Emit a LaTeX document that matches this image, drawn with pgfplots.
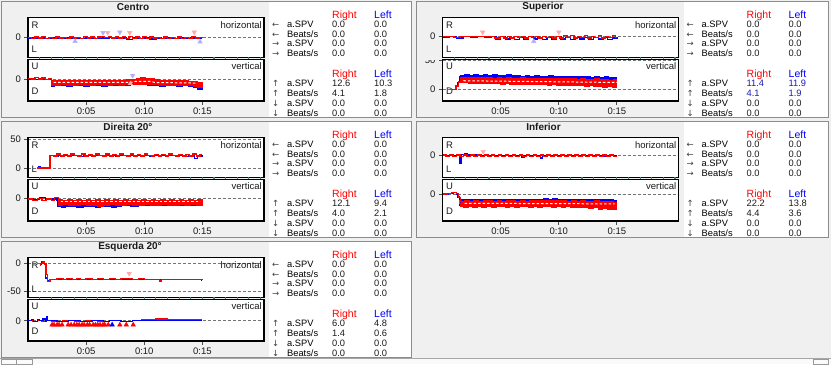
\documentclass[border=0pt]{standalone}
\usepackage{pgfplots}
\pgfplotsset{compat=1.18}
\usepackage{fontspec}
\setmainfont{Liberation Sans}
\newfontfamily\djv{DejaVu Sans}
\definecolor{bgc}{HTML}{F0F0F0}
\definecolor{pk}{HTML}{FFA8A8}
\definecolor{lb}{HTML}{B0B0FF}
\definecolor{tickc}{HTML}{3A7A8A}
\definecolor{vblue}{HTML}{1A1AB0}
\definecolor{txc}{HTML}{1A1A1A}
\pgfplotsset{
  eyebase/.style={scale only axis, width=236bp, xmin=0, xmax=20.3, anchor=north west,
    axis line style={line width=1.5bp, black},
    axis background/.style={fill=white},
    ytick={-50,0,50}, ymajorgrids,
    grid style={dash pattern=on 3bp off 2bp, black!55, line width=0.6bp},
    tick pos=left, tick align=outside, major tick length=3.5bp,
    tick style={black!70, line width=0.8bp},
    tick label style={font=\fontsize{9.5bp}{11bp}\selectfont, text=txc},
    /pgf/number format/assume math mode=true},
  horax/.style={eyebase, height=40bp, xtick=\empty, extra x ticks={1,2,...,20}, extra x tick labels={},
    extra x tick style={tick style={tickc, line width=1.2bp}, major tick length=1.6bp, grid=none}},
  verax/.style={eyebase, height=41.7bp, xtick={5,10,15}, xticklabels={0:05,0:10,0:15}},
  rl/.style={red, const plot, line width=1.3bp},
  bl/.style={blue, const plot, line width=1.3bp},
  rband/.style={red, fill=red, const plot, line width=1.1bp},
  bband/.style={blue, fill=blue, const plot, line width=1.1bp},
  wd/.style={white, line width=1bp, dash pattern=on 2.5bp off 2bp},
  mdn/.style={only marks, mark=triangle*, mark size=2.6bp, mark options={rotate=180}},
  mup/.style={only marks, mark=triangle*, mark size=2.6bp},
}
\newcommand\pframe[3]{\begin{scope}[shift={(#1,#2)}]
\fill[white] (269,2) rectangle (#3,117);
\draw[black!45, line width=1bp] (1.5,1.5) rectangle (#3+0.5,117.5);
\end{scope}}
\newcommand\trow[6]{\node[ar] at (272,#1) {#2}; \node[tx] at (287,#1) {#3};
\node[tx,text=#6] at (332,#1) {#4}; \node[tx,text=#6] at (374,#1) {#5};}
\newcommand\tbl[7]{\begin{scope}[shift={(#1,#2)}]
\clip (269,2) rectangle (411,117);
\node[hd,text=red] at (332,18.4) {Right};
\node[hd,text=blue] at (374,18.4) {Left};
\trow{27.6}{←}{a.SPV}{0.0}{0.0}{txc}
\trow{37.3}{←}{Beats/s}{0.0}{0.0}{txc}
\trow{46.9}{→}{a.SPV}{0.0}{0.0}{txc}
\trow{56.9}{→}{Beats/s}{0.0}{0.0}{txc}
\node[hd,text=red] at (332,77.8) {Right};
\node[hd,text=blue] at (374,77.8) {Left};
\trow{86.9}{↑}{a.SPV}{#3}{#4}{#7}
\trow{96.9}{↑}{Beats/s}{#5}{#6}{#7}
\trow{106.9}{↓}{a.SPV}{0.0}{0.0}{txc}
\trow{116.9}{↓}{Beats/s}{0.0}{0.0}{txc}
\end{scope}}
\newcommand\axlab[2]{\begin{scope}[shift={(#1,#2)}]
\node[lab,anchor=west] at (31.5,25) {R};
\node[lab,anchor=west] at (31.5,49) {L};
\node[lab,anchor=east] at (262,25) {horizontal};
\node[lab,anchor=west] at (31.5,66.5) {U};
\node[lab,anchor=west] at (31.5,91.5) {D};
\node[lab,anchor=east] at (262,66.5) {vertical};
\end{scope}}
\begin{document}
\begin{tikzpicture}[x=1bp,y=-1bp,
  tx/.style={anchor=base west, inner sep=0pt, font=\fontsize{9.3bp}{11bp}\selectfont},
  hd/.style={anchor=base west, inner sep=0pt, font=\fontsize{10.5bp}{12bp}\selectfont},
  ar/.style={anchor=base west, inner sep=0pt, font=\djv\fontsize{8.5bp}{10bp}\selectfont, text=black!75},
  ttl/.style={font=\bfseries\fontsize{10bp}{12bp}\selectfont, inner sep=0pt, text=txc},
  lab/.style={font=\fontsize{9.5bp}{11bp}\selectfont, inner sep=0pt, text=txc}]
\path[use as bounding box] (0,0) rectangle (831,364);
\fill[bgc] (0,0) rectangle (831,364);
\fill[black!2] (0,358) rectangle (831,364);
\draw[black!35, line width=0.8bp] (0,358.4) -- (831,358.4);
\draw[black!40, line width=0.8bp] (1,359) rectangle (16,364) (16,359) rectangle (32,364) (813,359) rectangle (828,364);
\pframe{0}{0}{411}
\pframe{414.5}{0}{413}
\pframe{0}{120}{411}
\pframe{414.5}{120}{413}
\pframe{0}{240}{411}

% ---------------- Centro ----------------
\begin{axis}[horax, at={(28bp,-17.3bp)}, ymin=-35, ymax=35]
\addplot[bl] coordinates {(0,-1) (0.5,-2) (1.0,-1) (1.5,-2) (2.0,-1) (2.5,-2.5) (3.0,-1) (3.5,-2) (4.0,-1) (4.5,-2.5) (5.0,-1) (5.5,-2) (6.0,-1) (6.5,-1) (7.0,0) (7.5,-2) (8.0,-1) (8.5,-4) (9.0,-1) (9.5,-2) (10.0,-1) (10.5,-3) (11.0,-1) (11.5,-2) (12.0,-1) (12.5,-2.5) (13.0,-1) (13.5,-2) (14.0,-1) (14.5,-2) (15.0,-2)};
\addplot[rl] coordinates {(0,0) (0.3,-1.5) (0.6,0.5) (0.9,-1) (1.2,1) (1.5,-1.5) (1.8,0) (2.1,-1.5) (2.4,0.5) (2.7,-1) (3.0,0) (3.3,-2) (3.6,0.5) (3.9,-1) (4.2,0) (4.5,-1.5) (4.8,1) (5.1,-1) (5.4,0.5) (5.7,-1.5) (6.0,0.5) (6.3,1) (6.6,0) (6.9,1.5) (7.2,-1) (7.5,0.5) (7.8,-1) (8.1,1) (8.4,-2.5) (8.7,1) (9.0,-1.5) (9.3,0.5) (9.6,-1.5) (9.9,1) (10.2,-2) (10.5,0.5) (10.8,-1) (11.1,0) (11.4,-2) (11.7,0.5) (12.0,-1.5) (12.3,0) (12.6,-2) (12.9,0.5) (13.2,-1.5) (13.5,0) (13.8,-2) (14.1,1) (14.4,-1) (14.7,0) (15.0,-1)};
\addplot[mdn, color=lb] coordinates {(6.45,8) (7.9,9)};
\addplot[mdn, color=pk] coordinates {(6.85,8) (8.75,8) (14.3,9)};
\addplot[mup, color=lb] coordinates {(4.05,-7) (14.8,-8)};
\end{axis}
\begin{axis}[verax, at={(28bp,-59.3bp)}, ymin=-38, ymax=34]
\addplot[bl] coordinates {(0,0) (0.5,-1) (1.0,0) (1.5,-1) (2.0,-4)};
\addplot[bband] coordinates {(2.0,-4) (9.0,-4) (9.5,-2) (10.5,-2) (11.0,-4) (14.6,-6) (15.0,-10) (15.0,-18) (14.8,-18) (14.6,-14) (14.2,-13) (13.8,-12) (13.3,-13) (12.8,-12) (12.3,-12) (11.8,-13) (11.3,-11) (10.8,-11) (10.3,-10) (9.8,-10) (9.3,-10) (8.8,-11) (8.3,-12) (7.8,-11) (7.3,-12) (6.8,-13) (6.3,-11) (5.8,-12) (5.3,-13) (4.8,-11) (4.3,-12) (3.8,-13) (3.3,-11) (2.8,-12) (2.3,-13) (2.0,-4)};
\addplot[rl] coordinates {(0,1) (0.3,0) (0.6,2) (0.9,0) (1.2,1.5) (1.5,-0.5) (1.8,1) (2.0,-2)};
\addplot[rband] coordinates {(2.0,-2) (2.5,-3) (3.0,-2) (3.5,-3) (4.0,-2) (4.5,-3) (5.0,-2) (5.5,-3) (6.0,-2) (6.5,-3) (7.0,-2) (7.5,-3) (8.0,-2) (8.5,-1) (9.0,-1) (9.3,1) (9.7,2) (10.1,1) (10.5,0) (10.9,-1) (11.3,-2) (11.8,-2) (12.3,-3) (12.8,-3) (13.3,-3) (13.8,-4) (14.3,-4) (14.6,-6) (15.0,-9) (15.0,-15) (14.6,-13) (14.2,-12) (13.8,-12) (13.3,-11) (12.8,-12) (12.3,-11) (11.8,-11) (11.3,-10) (10.8,-10) (10.3,-9) (9.8,-9) (9.3,-9) (8.8,-10) (8.3,-11) (7.8,-10) (7.3,-11) (6.8,-11) (6.3,-10) (5.8,-11) (5.3,-11) (4.8,-10) (4.3,-11) (3.8,-11) (3.3,-10) (2.8,-11) (2.3,-11) (2.0,-4)};
\addplot[wd] coordinates {(2.2,-6) (8.8,-6) (9.3,-4) (10.5,-4) (10.9,-6) (14.4,-7)};
\addplot[mdn, color=lb] coordinates {(9.0,6)};
\addplot[mup, color=pk] coordinates {(8.8,-8)};
\end{axis}

% ---------------- Superior ----------------
\begin{axis}[verax, at={(442.5bp,-59.3bp)}, ymin=-20, ymax=52]
\addplot[bl] coordinates {(0.85,0) (1.1,5) (1.3,12) (1.5,24)};
\addplot[bband] coordinates {(1.5,24) (1.9,25) (2.3,24) (2.7,25) (3.1,24) (3.5,25) (3.9,24) (4.3,25) (4.7,24) (5.1,24) (5.5,25) (5.9,24) (6.3,24) (6.7,23) (7.1,24) (7.5,23) (7.9,24) (8.3,23) (8.7,23) (9.1,24) (9.5,23) (9.9,23) (10.3,22) (10.7,23) (11.1,22) (11.5,23) (11.9,22) (12.3,22) (12.7,21) (13.1,22) (13.5,21) (13.9,22) (14.3,21) (14.7,21) (15.0,20) (15.0,8) (14.5,8) (14.0,9) (13.0,10) (12.0,10) (10.0,11) (8.0,12) (6.0,12) (4.0,13) (2.0,14) (1.5,14)};
\addplot[rl] coordinates {(0.85,0) (1.0,0) (1.15,6) (1.35,13) (1.55,21)};
\addplot[rband] coordinates {(1.55,21) (1.9,20) (2.3,21) (2.7,20) (3.1,20) (3.5,21) (3.9,20) (4.3,19) (4.7,20) (5.1,19) (5.5,20) (5.9,19) (6.3,19) (6.7,20) (7.1,19) (7.5,18) (7.9,19) (8.3,19) (8.7,18) (9.1,19) (9.5,18) (9.9,18) (10.3,19) (10.7,18) (11.1,18) (11.5,17) (11.9,18) (12.3,17) (12.7,17) (13.1,18) (13.5,17) (13.9,17) (14.3,16) (14.7,17) (15.0,16) (15.0,4) (14.6,5) (14.2,4) (13.8,5) (13.4,5) (13.0,6) (12.6,5) (12.2,6) (11.8,6) (11.4,7) (11.0,6) (10.6,7) (10.2,7) (9.8,8) (9.4,7) (9.0,8) (8.6,8) (8.2,8) (7.8,9) (7.4,8) (7.0,9) (6.6,9) (6.2,9) (5.8,10) (5.4,9) (5.0,10) (4.6,10) (4.2,10) (3.8,11) (3.4,10) (3.0,11) (2.6,11) (2.2,12) (1.8,12) (1.55,14)};
\addplot[wd] coordinates {(1.8,15) (15.0,12)};
\end{axis}
\fill[bgc] (417,49) rectangle (440,59.5);
\begin{axis}[horax, at={(442.5bp,-17.3bp)}, ymin=-37, ymax=33]
\addplot[bl] coordinates {(0,-2) (0.6,-1) (1.2,-3) (1.8,-1) (2.4,-2) (3.0,-1) (3.6,-2) (4.2,-1) (4.6,-5) (5.0,-1) (5.4,-5) (5.8,-2) (6.2,-6) (6.6,-2) (7.0,-5) (7.4,-1) (7.8,-5) (8.2,-2) (8.6,-6) (9.0,-2) (9.4,-5) (9.8,-1) (10.2,-5) (10.6,-2) (11.0,-6) (11.4,-2) (11.8,-5) (12.2,-2) (12.6,-6) (13.0,-2) (13.4,-5) (13.8,-2) (14.2,-6) (14.6,-3) (15.0,-4)};
\addplot[rl] coordinates {(0,-1) (0.5,0) (1.0,-2) (1.5,0) (2.0,-1) (2.5,0) (3.0,0) (3.5,-1) (4.0,0) (4.5,-3) (5.0,0) (5.3,-3) (5.6,0) (5.9,-3) (6.2,0) (6.5,-2) (6.8,0) (7.1,-3) (7.4,0) (7.7,-2) (8.0,0) (8.3,-3) (8.6,0) (8.9,-2) (9.2,0) (9.5,-3) (9.8,0) (10.1,-3) (10.4,1) (10.7,-2) (11.0,1) (11.3,-3) (11.6,0) (11.9,-2) (12.2,1) (12.5,-3) (12.8,0) (13.1,-2) (13.4,1) (13.7,-3) (14.0,0) (14.3,-2) (14.6,1) (14.9,-2) (15.0,-2)};
\addplot[mdn, color=pk] coordinates {(3.45,7) (10.0,7)};
\addplot[mup, color=lb] coordinates {(7.85,-9)};
\end{axis}

% ---------------- Direita 20 ----------------
\begin{axis}[horax, at={(28bp,-137.3bp)}, ymin=-16, ymax=53]
\addplot[bl] coordinates {(0.8,0) (0.9,3) (1.1,0) (1.9,22) (2.3,20) (2.6,22) (3.5,22) (4.5,20) (4.8,22) (6.0,22) (7.5,20) (7.8,22) (9.0,22) (10.5,20) (10.8,22) (12.0,22) (13.5,20) (13.8,22) (14.3,17) (14.6,21) (15.0,22)};
\addplot[rl] coordinates {(0.8,0) (1.9,22) (2.2,21) (2.5,24) (2.8,21) (3.1,23) (3.4,21) (3.7,24) (4.0,22) (4.3,21) (4.6,24) (4.9,21) (5.2,23) (5.5,21) (5.8,24) (6.1,22) (6.4,21) (6.7,24) (7.0,21) (7.3,23) (7.6,21) (7.9,24) (8.2,22) (8.5,21) (8.8,24) (9.1,21) (9.4,23) (9.7,21) (10.0,24) (10.3,22) (10.6,21) (10.9,23) (11.2,21) (11.5,23) (11.8,21) (12.1,24) (12.4,22) (12.7,21) (13.0,23) (13.3,21) (13.6,23) (13.9,21) (14.2,24) (14.5,21) (14.8,23) (15.0,23)};
\end{axis}
\begin{axis}[verax, at={(28bp,-179.3bp)}, ymin=-39, ymax=33]
\addplot[bl] coordinates {(0,0) (0.5,-2) (1.0,1) (1.5,-2) (2.0,-1) (2.5,-4)};
\addplot[bband] coordinates {(2.5,-4) (15.0,-4) (15.0,-10) (14.6,-12) (12.0,-12) (9.5,-13) (8.8,-12) (8.0,-14) (7.6,-15) (7.2,-14) (6.2,-15) (5.8,-14) (4.8,-15) (4.2,-14) (3.2,-15) (2.9,-14) (2.5,-8)};
\addplot[rl] coordinates {(0,-1) (0.4,-3) (0.8,0) (1.2,-3) (1.6,-1) (2.0,-4) (2.3,1) (2.6,-2)};
\addplot[rband] coordinates {(2.6,-2) (3.0,-3) (3.4,-2) (3.8,-3) (4.2,-2) (4.6,-3) (5.0,-2) (5.4,-3) (5.8,-2) (6.2,-3) (6.6,-2) (7.0,-3) (7.4,-2) (7.8,-3) (8.2,-2) (8.6,-3) (9.0,-2) (9.4,-3) (9.8,-2) (10.2,-3) (10.6,-2) (11.0,-3) (11.4,-2) (11.8,-3) (12.2,-2) (12.6,-3) (13.0,-2) (13.4,-3) (13.8,-2) (14.2,-3) (14.6,-2) (15.0,-3) (15.0,-12) (14.5,-11) (14.0,-12) (13.5,-11) (13.0,-12) (12.5,-12) (12.0,-11) (11.5,-12) (11.0,-12) (10.5,-11) (10.0,-12) (9.5,-12) (9.0,-11) (8.5,-12) (8.0,-12) (7.5,-11) (7.0,-12) (6.5,-13) (6.0,-12) (5.5,-12) (5.0,-11) (4.5,-12) (4.0,-12) (3.5,-11) (3.0,-12) (2.6,-10)};
\addplot[wd] coordinates {(2.8,-5.5) (14.8,-5.5)};
\end{axis}

% ---------------- Inferior ----------------
\begin{axis}[horax, at={(442.5bp,-137.3bp)}, ymin=-39, ymax=31]
\addplot[bl] coordinates {(0,-1) (1.4,-1) (1.5,-14) (1.6,1) (1.9,2) (2.1,0) (3.0,-1) (5.0,-1) (6.8,-4) (7.0,-1) (8.4,-5) (8.6,-1) (11.0,-1) (13.8,-3) (14.2,-1) (15.0,-1)};
\addplot[rl] coordinates {(0,0) (0.3,-2) (0.6,0) (0.9,-3) (1.2,0) (1.5,-2) (1.8,0) (2.1,-3) (2.4,0) (2.7,-2) (3.0,0) (3.3,-3) (3.6,0) (3.9,-2) (4.2,0) (4.5,-3) (4.8,0) (5.1,-3) (5.4,0) (5.7,-2) (6.0,0) (6.3,-3) (6.6,0) (6.9,-3) (7.2,0) (7.5,-2) (7.8,0) (8.1,-3) (8.4,0) (8.7,-3) (9.0,0) (9.3,-2) (9.6,0) (9.9,-3) (10.2,0) (10.5,-3) (10.8,0) (11.1,-3) (11.4,0) (11.7,-2) (12.0,0) (12.3,-3) (12.6,0) (12.9,-3) (13.2,0) (13.5,-3) (13.8,0) (14.1,-3) (14.4,0) (14.7,-3) (15.0,-3)};
\addplot[mdn, color=pk] coordinates {(3.5,6)};
\end{axis}
\begin{axis}[verax, at={(442.5bp,-179.3bp)}, ymin=-46.5, ymax=25.3]
\addplot[bl] coordinates {(0,0) (0.5,1) (0.9,2) (1.2,0) (1.3,-5) (1.45,-10)};
\addplot[bband] coordinates {(1.45,-10) (1.9,-9) (2.3,-10) (2.7,-9) (3.1,-10) (3.5,-9) (3.9,-10) (4.3,-9) (4.7,-10) (5.1,-9) (5.5,-10) (5.9,-9) (6.3,-10) (6.7,-9) (7.1,-10) (7.5,-9) (7.9,-10) (8.3,-9) (8.7,-8) (9.1,-9) (9.5,-8) (9.9,-9) (10.3,-9) (10.7,-10) (11.1,-9) (11.5,-10) (11.9,-9) (12.3,-10) (12.7,-10) (13.1,-9) (13.5,-10) (13.9,-10) (14.3,-10) (14.7,-11) (15.0,-11) (15.0,-20) (1.45,-18)};
\addplot[rl] coordinates {(0,0) (0.4,1) (0.8,2) (1.0,3) (1.2,1) (1.35,-6) (1.55,-13)};
\addplot[rband] coordinates {(1.55,-13) (1.9,-12) (2.3,-13) (2.7,-12) (3.1,-13) (3.5,-12) (3.9,-12) (4.3,-13) (4.7,-12) (5.1,-13) (5.5,-12) (5.9,-12) (6.3,-13) (6.7,-12) (7.1,-13) (7.5,-12) (7.9,-12) (8.3,-11) (8.7,-11) (9.1,-12) (9.5,-11) (9.9,-12) (10.3,-12) (10.7,-13) (11.1,-12) (11.5,-13) (11.9,-12) (12.3,-13) (12.7,-13) (13.1,-12) (13.5,-13) (13.9,-13) (14.3,-13) (14.7,-14) (15.0,-14) (15.0,-26) (14.6,-27) (14.2,-25) (13.8,-26) (13.4,-24) (13.0,-25) (12.6,-24) (12.2,-23) (11.8,-24) (11.4,-23) (11.0,-22) (10.6,-23) (10.2,-22) (9.8,-23) (9.4,-22) (9.0,-22) (8.6,-23) (8.2,-22) (7.8,-23) (7.4,-22) (7.0,-22) (6.6,-23) (6.2,-22) (5.8,-23) (5.4,-22) (5.0,-22) (4.6,-23) (4.2,-22) (3.8,-23) (3.4,-22) (3.0,-23) (2.6,-22) (2.2,-23) (1.8,-22) (1.55,-16)};
\addplot[wd] coordinates {(1.9,-16) (14.8,-17)};
\end{axis}

% ---------------- Esquerda 20 ----------------
\begin{axis}[horax, at={(28bp,-257.3bp)}, ymin=-60, ymax=10.6]
\addplot[bl] coordinates {(1.0,-2) (1.15,3) (1.3,0) (1.5,-26) (1.7,-31) (1.9,-28) (5.5,-28) (5.7,-29) (11.4,-29) (11.6,-28) (14.9,-30) (15.0,-30)};
\addplot[rl] coordinates {(1.0,-3) (1.1,0) (1.3,3) (1.4,-1) (1.55,-20) (1.7,-32) (1.9,-28) (2.5,-27) (3.0,-28) (3.3,-27) (3.8,-28) (4.2,-27) (4.5,-28) (5.0,-27) (5.5,-28) (6.0,-27) (6.5,-28) (7.0,-27) (7.5,-28) (8.0,-27) (8.5,-27) (9.0,-28) (9.5,-27) (10.0,-28) (10.5,-28) (11.3,-31) (11.5,-28) (12.0,-28) (13.0,-28) (14.0,-28) (15.0,-29)};
\addplot[mdn, color=pk] coordinates {(8.7,-18)};
\end{axis}
\begin{axis}[verax, at={(28bp,-299.3bp)}, ymin=-35, ymax=37]
\addplot[rl] coordinates {(0,0) (0.4,-1) (0.8,1) (1.2,-1) (1.6,0) (2.0,-1) (3.0,0) (4.0,-1) (5.0,0) (6.0,-1) (7.0,0) (8.0,-1) (9.0,0) (9.8,2) (11.0,3) (12.0,2) (13.0,2) (14.0,2) (15.0,2)};
\addplot[bl] coordinates {(0,0) (0.3,2) (0.5,-1) (0.8,2) (1.0,0) (1.3,3) (1.5,-1) (1.6,7) (1.7,0) (2.5,-1) (3.5,0) (4.5,-1) (5.5,0) (6.5,-1) (7.0,0) (8.0,-1) (9.0,0) (10.0,0) (11.0,0) (15.0,0)};
\addplot[mup, color=red] coordinates {(2.07,-7) (2.24,-7) (2.5,-7) (2.67,-7) (2.93,-7) (3.45,-7) (3.7,-7) (3.97,-7) (4.2,-7) (4.4,-7) (4.65,-7) (4.83,-7) (5.1,-7) (5.3,-7) (5.6,-7) (5.8,-7) (6.0,-7) (6.2,-7) (6.45,-7) (6.6,-7) (6.9,-7) (7.9,-7) (8.45,-7) (9.05,-7)};
\addplot[mup, color=blue] coordinates {(7.24,-7)};
\end{axis}

% ---------------- labels, titles, tables ----------------
\axlab{0}{0}
\axlab{414.5}{0}
\axlab{0}{120}
\axlab{414.5}{120}
\axlab{0}{240}
\node[ttl] at (133,7) {Centro};
\node[ttl] at (543,7) {Superior};
\node[ttl] at (128,127) {Direita 20°};
\node[ttl] at (543.5,127) {Inferior};
\node[ttl] at (130,247) {Esquerda 20°};
\tbl{0}{0}{12.6}{10.3}{4.1}{1.8}{txc}
\tbl{414.5}{0}{11.4}{11.9}{4.1}{1.9}{vblue}
\tbl{0}{120}{12.1}{9.4}{4.0}{2.1}{txc}
\tbl{414.5}{120}{22.2}{13.8}{4.4}{3.6}{txc}
\tbl{0}{240}{6.0}{4.8}{1.4}{0.6}{txc}
\end{tikzpicture}
\end{document}
